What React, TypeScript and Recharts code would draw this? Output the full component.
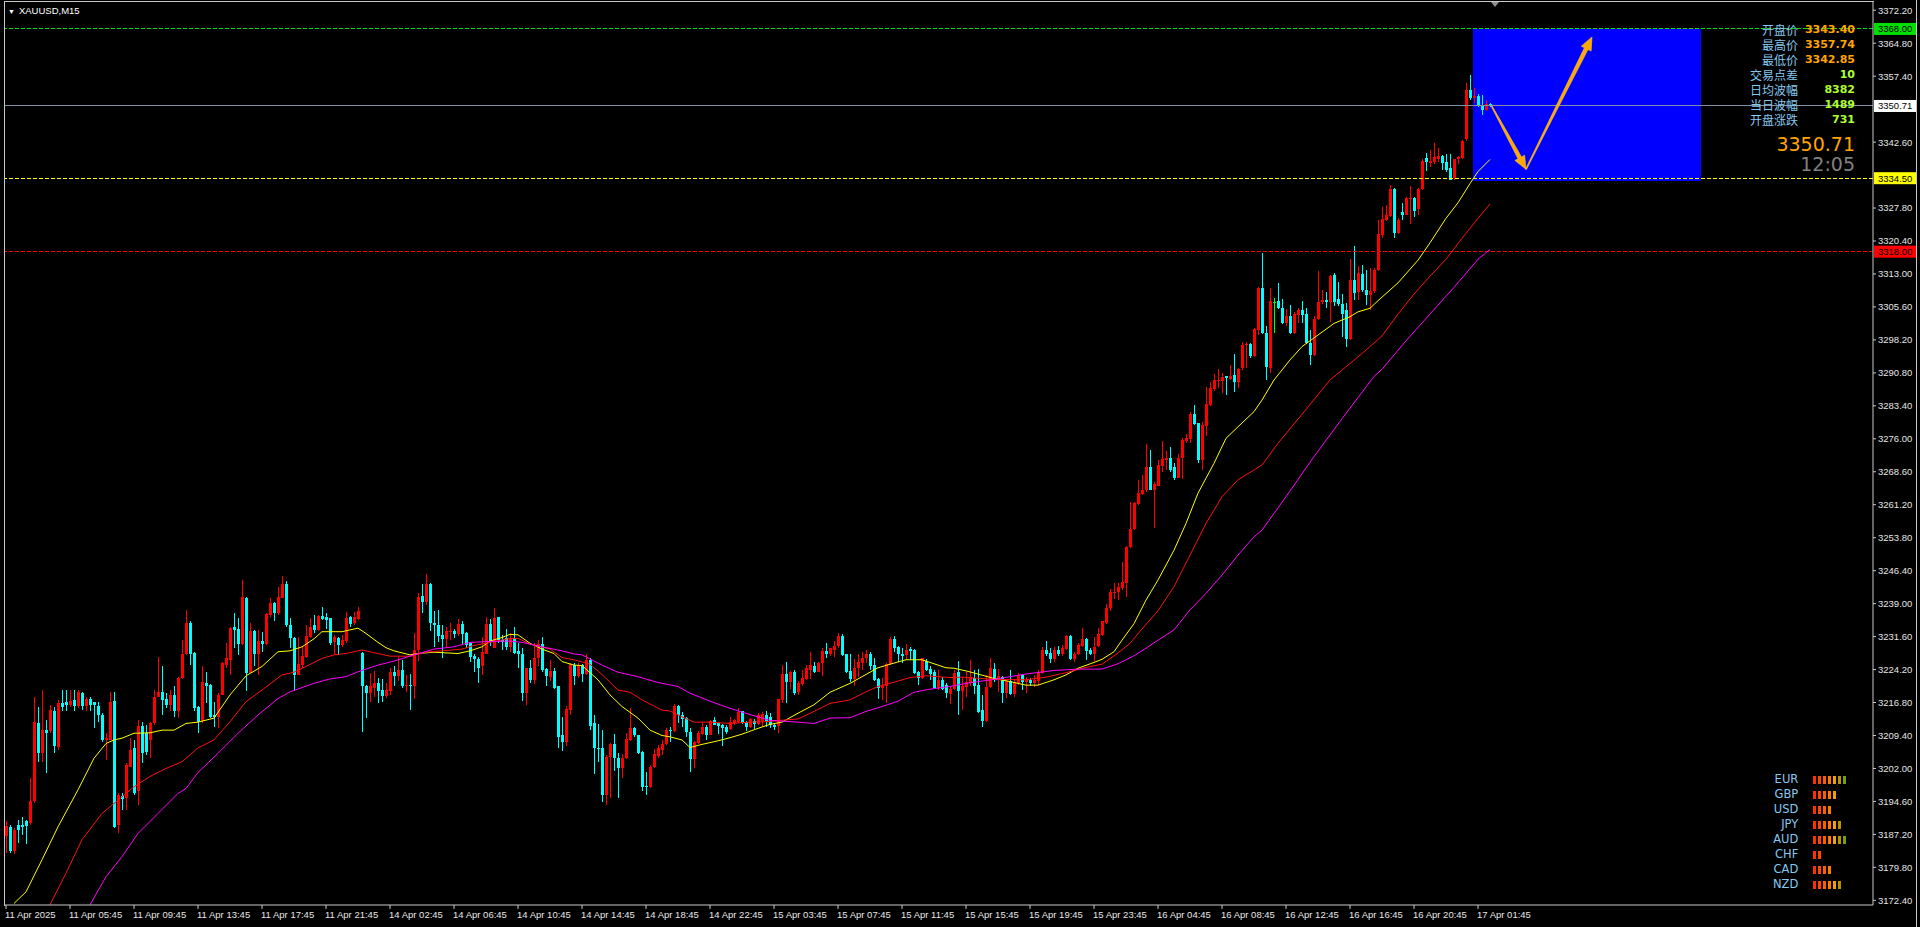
import {
  Bar,
  ComposedChart,
  Line,
  ReferenceArea,
  ReferenceLine,
  XAxis,
  YAxis,
} from 'recharts';

// M15 candles, [open, high, low, close], one array per trading session
const apr11: number[][] = [
  [3186.8,3190.1,3183.0,3189.1],[3188.9,3189.2,3183.0,3183.5],[3183.5,3188.6,3182.8,3188.2],[3189.3,3190.4,3185.2,3188.2],
  [3189.3,3191.2,3187.1,3188.8],[3190.1,3190.4,3185.0,3189.1],[3189.8,3199.8,3189.3,3194.6],[3194.6,3218.1,3194.2,3212.5],
  [3212.3,3215.9,3203.5,3205.4],[3205.4,3219.6,3203.5,3210.6],[3210.6,3212.9,3200.9,3210.0],[3210.3,3216.3,3209.9,3215.1],
  [3214.8,3215.9,3205.4,3207.0],[3206.9,3217.4,3206.1,3216.6],[3216.6,3219.6,3214.8,3215.9],[3217.0,3219.6,3214.8,3216.3],
  [3216.3,3219.6,3215.9,3217.2],[3217.4,3219.6,3214.8,3216.0],[3216.0,3219.6,3215.5,3219.2],[3218.9,3219.2,3215.1,3216.0],
  [3216.0,3218.1,3214.8,3217.7],[3217.7,3218.1,3214.8,3216.3],[3217.0,3217.0,3211.0,3216.3],[3216.0,3217.0,3212.5,3214.0],
  [3214.0,3214.4,3208.0,3208.4],[3208.4,3209.9,3203.9,3208.8],[3208.4,3219.2,3208.4,3217.0],[3217.2,3219.2,3188.6,3188.9],
  [3189.3,3196.4,3187.4,3196.0],[3195.8,3196.4,3192.7,3195.1],[3195.3,3203.2,3192.7,3202.8],[3202.4,3208.8,3202.4,3206.1],
  [3206.5,3208.4,3196.0,3196.4],[3197.0,3212.9,3193.8,3211.5],[3211.5,3212.5,3203.2,3205.4],[3210.0,3211.8,3205.0,3205.8],
  [3208.4,3212.5,3204.3,3212.1],[3212.1,3219.6,3211.8,3218.1],[3218.1,3227.1,3218.0,3219.2],[3219.2,3224.9,3214.0,3217.4],
  [3217.5,3218.9,3215.5,3216.3],[3216.3,3219.6,3214.8,3218.5],[3218.5,3220.4,3213.6,3214.8],[3214.8,3222.6,3213.3,3222.2],
  [3222.2,3230.8,3222.0,3227.8],[3227.7,3237.6,3227.4,3234.6],[3234.6,3235.0,3225.2,3227.8],[3228.0,3228.2,3214.8,3215.6],
  [3215.9,3216.0,3209.9,3212.5],[3212.7,3224.9,3212.1,3221.3],[3221.1,3223.7,3216.6,3220.6],[3220.7,3221.0,3213.3,3213.6],
  [3214.0,3217.0,3211.2,3213.5],[3213.6,3218.9,3211.0,3218.6],[3218.6,3226.0,3218.5,3225.6],[3225.2,3230.1,3224.5,3226.7],
  [3226.3,3233.8,3223.0,3233.6],[3233.8,3236.8,3229.0,3233.1],[3233.3,3235.7,3227.5,3229.9],[3229.9,3244.3,3229.8,3240.6],
  [3240.3,3240.6,3219.4,3223.5],[3223.5,3234.6,3223.4,3232.9],[3232.9,3233.1,3224.9,3227.8],[3227.6,3233.1,3223.0,3230.6],
  [3230.6,3232.7,3228.2,3229.9],[3229.9,3236.8,3229.7,3236.6],[3236.4,3240.2,3236.1,3239.1],[3239.1,3239.4,3235.1,3236.8],
  [3236.8,3242.8,3236.5,3240.6],[3240.3,3245.1,3240.2,3243.3],[3243.3,3244.1,3233.8,3234.2],[3234.3,3235.7,3229.0,3231.2],
  [3231.2,3231.6,3219.4,3223.0],[3223.0,3231.6,3222.9,3225.5],[3225.2,3229.3,3224.5,3227.3],[3227.1,3234.2,3226.7,3231.8],
  [3231.6,3235.7,3231.2,3233.8],[3234.1,3236.5,3232.3,3233.1],[3233.1,3236.5,3232.9,3236.3],[3236.3,3238.3,3235.3,3235.6],
  [3235.9,3236.8,3233.3,3235.3],[3235.7,3235.8,3229.7,3230.1],[3230.3,3232.0,3227.5,3231.4],[3231.2,3231.6,3227.5,3229.7],
  [3229.7,3232.0,3229.3,3230.8],[3230.5,3237.1,3230.1,3235.7],[3236.1,3236.3,3233.8,3234.4],[3234.6,3237.2,3234.2,3235.9],
  [3235.6,3238.3,3235.3,3237.4],
];

const apr14: number[][] = [
  [3228.0,3228.2,3210.1,3220.4],[3220.5,3220.7,3213.4,3218.9],[3218.9,3223.4,3217.0,3220.5],[3220.1,3223.9,3218.1,3221.1],
  [3221.1,3222.4,3216.6,3219.4],[3219.6,3222.1,3217.0,3218.3],[3218.3,3221.1,3217.9,3219.6],[3219.4,3224.5,3218.5,3223.7],
  [3223.7,3224.9,3220.6,3222.8],[3222.8,3227.1,3221.6,3224.1],[3224.1,3226.3,3220.1,3220.6],[3220.6,3223.0,3219.1,3220.8],
  [3220.8,3223.1,3215.1,3220.5],[3220.6,3232.3,3217.6,3228.7],[3228.6,3241.3,3226.1,3240.6],[3240.8,3243.3,3236.8,3239.4],
  [3239.4,3245.7,3238.8,3243.3],[3243.3,3243.6,3232.9,3234.6],[3234.6,3237.4,3229.3,3234.1],[3234.2,3237.6,3230.3,3231.8],
  [3232.0,3234.1,3226.9,3231.1],[3231.1,3233.8,3229.0,3232.9],[3232.6,3234.6,3230.8,3232.9],[3232.9,3233.3,3231.2,3232.1],
  [3232.1,3235.6,3231.8,3234.4],[3234.4,3235.1,3229.7,3232.1],[3232.3,3232.7,3229.0,3229.7],[3230.1,3230.3,3226.0,3227.1],
  [3227.3,3227.8,3223.7,3226.6],[3226.6,3227.1,3221.1,3224.6],[3224.9,3231.6,3223.0,3228.1],[3227.8,3236.1,3227.6,3234.4],
  [3234.4,3235.6,3229.6,3230.5],[3229.1,3238.1,3229.0,3235.7],[3235.9,3236.1,3230.1,3230.8],[3230.8,3232.0,3228.6,3230.3],
  [3231.2,3233.3,3228.6,3229.3],[3229.3,3232.3,3228.2,3231.2],[3231.2,3233.8,3227.8,3228.0],[3228.4,3230.1,3224.5,3227.6],
  [3227.8,3229.0,3217.1,3219.0],[3219.0,3224.6,3216.3,3224.5],[3224.5,3226.3,3221.1,3221.9],[3221.9,3230.1,3220.9,3226.9],
  [3226.7,3230.8,3224.9,3229.9],[3229.9,3231.6,3223.6,3224.1],[3224.3,3224.5,3220.6,3222.8],[3222.6,3226.3,3221.6,3223.9],
  [3223.9,3224.6,3219.8,3220.0],[3220.5,3220.5,3206.5,3209.1],[3209.5,3213.6,3205.9,3207.9],[3207.9,3216.1,3207.1,3215.3],
  [3215.1,3225.7,3214.0,3225.5],[3225.2,3225.6,3220.7,3222.8],[3222.8,3225.6,3222.2,3225.2],[3225.2,3225.4,3221.5,3223.1],
  [3223.1,3227.6,3223.0,3226.4],[3226.4,3226.7,3210.6,3211.6],[3212.1,3214.0,3200.7,3206.7],[3206.7,3211.9,3203.4,3206.4],
  [3206.7,3210.6,3194.5,3196.0],[3196.0,3205.0,3193.8,3204.6],[3204.6,3207.7,3195.3,3207.6],[3207.4,3209.7,3201.4,3204.4],
  [3204.4,3205.4,3195.3,3202.2],[3202.2,3205.2,3199.9,3204.3],[3204.3,3209.9,3204.1,3208.6],[3208.4,3215.5,3208.2,3211.0],
  [3211.0,3211.4,3209.1,3209.4],[3209.4,3209.5,3205.2,3205.4],[3205.8,3205.9,3196.9,3197.9],[3198.1,3201.3,3196.0,3197.9],
  [3197.9,3202.8,3197.7,3202.4],[3202.4,3206.4,3202.2,3205.2],[3204.9,3207.3,3204.4,3206.5],[3206.1,3208.4,3205.0,3207.6],
  [3207.4,3211.0,3207.3,3210.6],[3210.6,3211.2,3208.0,3210.3],[3210.3,3216.4,3210.1,3216.1],[3216.1,3216.2,3212.1,3213.9],
  [3214.0,3214.6,3211.2,3213.1],[3213.3,3213.6,3209.1,3210.1],[3210.1,3211.0,3201.1,3204.1],[3204.1,3208.2,3202.2,3207.9],
  [3207.7,3210.3,3207.4,3209.9],[3209.7,3212.5,3209.4,3211.4],[3211.4,3211.8,3208.4,3209.4],[3209.5,3212.9,3209.4,3212.7],
  [3212.9,3213.6,3211.7,3211.8],[3212.1,3212.3,3209.7,3211.6],[3211.8,3211.9,3207.1,3211.0],[3211.4,3211.8,3209.7,3210.1],
];

const apr15: number[][] = [
  [3210.9,3213.6,3210.6,3212.4],[3212.2,3213.2,3211.8,3212.9],[3212.5,3215.5,3212.1,3214.6],[3214.8,3214.9,3211.9,3212.1],
  [3212.4,3212.7,3210.3,3211.4],[3211.4,3213.4,3211.0,3213.1],[3212.7,3213.2,3210.9,3211.9],[3211.9,3214.4,3211.8,3214.0],
  [3212.7,3214.6,3211.4,3214.2],[3214.0,3214.8,3211.4,3212.7],[3213.6,3214.4,3211.0,3211.8],[3211.8,3212.3,3210.6,3211.4],
  [3211.6,3217.7,3209.9,3217.6],[3217.4,3225.2,3216.8,3223.1],[3223.1,3225.8,3216.8,3221.3],[3221.3,3223.9,3219.8,3223.6],
  [3223.7,3224.1,3218.5,3218.9],[3219.1,3221.6,3218.5,3221.1],[3220.9,3224.1,3220.6,3222.2],[3222.1,3225.2,3221.9,3224.5],
  [3224.1,3228.1,3222.1,3225.2],[3225.1,3225.8,3223.4,3223.7],[3223.7,3225.8,3223.6,3225.6],[3225.6,3229.0,3222.8,3228.4],
  [3228.4,3230.1,3226.9,3227.6],[3227.6,3229.1,3227.3,3229.0],[3228.6,3230.5,3227.1,3229.6],[3229.4,3232.3,3229.1,3231.8],
  [3231.8,3232.1,3227.3,3227.5],[3227.6,3227.8,3223.4,3223.7],[3223.9,3227.8,3221.5,3222.1],[3222.1,3226.6,3220.6,3224.6],
  [3224.5,3227.6,3222.6,3226.0],[3225.6,3228.1,3224.1,3226.9],[3226.7,3228.6,3225.6,3227.6],[3227.6,3228.1,3224.1,3224.9],
  [3225.2,3226.7,3221.6,3221.9],[3222.1,3222.4,3217.6,3220.1],[3220.1,3222.2,3217.4,3220.6],[3220.4,3225.6,3216.8,3225.4],
  [3225.4,3231.4,3225.2,3231.1],[3231.1,3231.8,3228.2,3229.0],[3229.3,3229.6,3225.8,3227.6],[3227.8,3229.0,3225.6,3227.3],
  [3227.5,3229.9,3226.6,3228.6],[3228.8,3229.3,3226.4,3228.4],[3228.6,3228.8,3223.1,3223.4],[3223.6,3223.9,3220.7,3222.2],
  [3222.2,3226.9,3222.1,3226.7],[3226.1,3226.6,3223.9,3224.1],[3224.3,3224.9,3221.9,3223.1],[3223.6,3224.1,3219.8,3220.0],
  [3220.0,3224.1,3219.6,3221.9],[3221.9,3222.6,3219.6,3219.8],[3220.7,3221.1,3217.9,3218.9],[3218.7,3220.4,3216.4,3219.8],
  [3219.8,3224.1,3219.6,3223.4],[3223.6,3226.1,3214.0,3219.4],[3219.4,3222.6,3215.1,3220.4],[3220.2,3223.7,3218.1,3221.3],
  [3221.1,3226.4,3220.5,3222.5],[3222.2,3224.0,3218.7,3220.5],[3220.7,3224.3,3214.5,3214.7],[3215.1,3218.5,3211.4,3212.7],
  [3212.7,3223.0,3212.5,3220.2],[3220.2,3226.7,3220.0,3224.5],[3224.3,3225.6,3221.5,3221.9],[3221.9,3224.3,3219.2,3222.8],
  [3222.5,3222.8,3216.8,3219.0],[3219.0,3222.0,3217.8,3221.7],[3221.7,3224.1,3218.5,3218.7],[3218.7,3221.9,3218.1,3221.3],
  [3221.1,3223.4,3220.7,3223.0],[3223.0,3223.2,3219.6,3221.3],[3221.3,3222.5,3219.0,3221.9],[3221.9,3222.2,3220.5,3221.1],
  [3221.1,3223.0,3220.2,3221.9],[3221.6,3224.0,3220.7,3223.7],[3223.5,3229.3,3223.2,3228.7],[3228.6,3230.6,3227.3,3227.7],
  [3228.0,3229.0,3225.6,3226.6],[3226.5,3229.3,3226.0,3228.5],[3228.5,3229.5,3227.3,3227.7],[3227.7,3229.7,3227.3,3229.0],
  [3228.8,3232.0,3228.6,3231.7],[3231.7,3232.0,3226.4,3226.6],[3226.5,3228.2,3226.0,3227.8],[3227.8,3230.1,3227.5,3229.7],
  [3229.5,3233.5,3229.3,3231.0],[3231.0,3231.2,3226.3,3228.4],[3228.6,3229.0,3227.5,3227.8],[3227.8,3231.4,3226.2,3229.2],
];

const apr16: number[][] = [
  [3229.4,3233.5,3229.2,3232.2],[3232.0,3235.2,3231.7,3235.0],[3234.6,3238.9,3234.4,3238.0],[3238.0,3242.2,3237.4,3241.5],
  [3241.5,3243.7,3240.0,3241.7],[3241.7,3243.6,3239.9,3242.7],[3242.5,3248.4,3242.1,3243.9],[3243.7,3251.9,3240.4,3251.8],
  [3251.6,3261.9,3251.4,3255.7],[3255.7,3261.9,3255.5,3261.5],[3261.4,3266.8,3261.1,3263.8],[3263.6,3267.9,3263.4,3264.5],
  [3264.4,3274.8,3264.1,3269.6],[3269.6,3273.5,3264.4,3264.5],[3264.6,3266.2,3255.9,3265.9],[3265.4,3271.2,3265.3,3270.1],
  [3269.9,3275.4,3268.6,3271.4],[3271.3,3273.3,3269.0,3271.8],[3271.6,3274.1,3268.6,3269.1],[3269.6,3270.5,3266.8,3267.3],
  [3267.3,3272.6,3267.1,3271.8],[3271.6,3276.1,3266.9,3275.7],[3275.4,3277.1,3275.0,3276.1],[3275.9,3282.1,3275.0,3281.6],
  [3281.6,3283.6,3279.1,3279.3],[3279.5,3279.6,3270.6,3271.2],[3271.2,3279.8,3269.0,3279.1],[3278.9,3287.7,3276.6,3283.8],
  [3283.6,3288.8,3283.4,3287.3],[3287.1,3290.5,3286.8,3289.2],[3288.9,3291.6,3287.3,3289.1],[3288.9,3290.7,3286.2,3289.9],
  [3290.0,3290.1,3285.8,3289.6],[3289.4,3292.6,3289.3,3290.1],[3290.3,3295.0,3286.6,3288.8],[3288.8,3291.8,3287.3,3291.6],
  [3292.0,3297.8,3291.5,3297.1],[3297.0,3297.8,3292.0,3297.3],[3297.3,3297.6,3294.1,3294.6],[3294.6,3300.8,3294.4,3300.6],
  [3300.4,3310.0,3299.3,3309.9],[3309.9,3317.8,3299.5,3299.7],[3299.7,3301.3,3289.2,3292.2],[3292.0,3309.8,3290.8,3307.0],
  [3306.8,3307.5,3299.8,3306.8],[3307.0,3310.9,3305.1,3305.3],[3305.3,3307.3,3301.7,3301.9],[3301.9,3305.1,3301.3,3303.6],
  [3303.6,3306.0,3299.5,3299.7],[3299.7,3304.5,3299.5,3304.0],[3303.8,3305.3,3301.9,3304.9],[3304.8,3307.0,3301.9,3303.8],
  [3304.0,3305.3,3297.3,3297.6],[3297.6,3300.4,3292.6,3294.8],[3294.8,3303.6,3294.6,3303.0],[3302.8,3313.7,3302.7,3306.6],
  [3306.6,3309.5,3306.3,3307.2],[3307.2,3309.0,3305.3,3306.8],[3306.8,3312.8,3302.3,3312.5],[3312.8,3313.3,3305.7,3306.8],
  [3307.3,3311.3,3305.7,3306.3],[3306.3,3308.6,3298.9,3304.0],[3304.9,3306.4,3296.7,3298.3],[3298.3,3316.3,3298.2,3311.6],
  [3311.6,3319.3,3307.2,3308.8],[3309.0,3314.8,3307.2,3313.2],[3313.0,3315.0,3309.0,3309.5],[3309.5,3314.0,3306.0,3308.3],
  [3308.3,3314.3,3304.9,3309.2],[3309.2,3314.3,3308.7,3314.0],[3313.9,3325.1,3313.7,3322.0],[3321.7,3328.1,3321.0,3325.3],
  [3325.1,3328.5,3325.0,3326.2],[3326.0,3333.0,3325.9,3332.0],[3332.0,3332.2,3321.0,3322.3],[3322.3,3325.5,3322.0,3325.1],
  [3326.9,3328.9,3325.1,3326.3],[3326.3,3330.2,3326.2,3330.0],[3329.8,3332.7,3324.2,3330.0],[3330.0,3330.3,3325.9,3327.2],
  [3327.6,3332.2,3326.2,3332.0],[3332.0,3338.7,3331.8,3338.4],[3339.0,3340.2,3336.2,3338.2],[3338.0,3340.8,3337.1,3338.4],
  [3338.2,3342.5,3337.7,3339.2],[3338.7,3341.2,3338.2,3339.5],[3339.5,3339.7,3336.3,3338.0],[3338.2,3339.9,3336.0,3336.3],
  [3336.7,3339.9,3334.1,3334.2],[3334.5,3338.9,3334.2,3338.7],[3338.7,3339.5,3337.7,3339.2],[3339.0,3343.1,3338.7,3342.9],
];

const apr17: number[][] = [
  [3343.4,3355.9,3342.85,3354.3],[3354.3,3357.74,3352.1,3352.6],[3352.6,3354.7,3351.3,3352.9],[3352.9,3353.4,3350.4,3350.7],
  [3350.9,3353.2,3348.7,3349.8],[3349.8,3352.0,3349.6,3351.2],[3351.2,3351.3,3350.4,3350.71],
];

// moving averages as [bar index, value], read at intervals along each line
const maFast: number[][] = [
  [2,3171.7],[5,3174.3],[9,3181.5],[13,3188.9],[18,3197.2],[22,3204.3],[25,3207.6],[27,3208.4],[29,3208.8],[32,3209.9],
  [36,3210.0],[39,3210.6],[42,3210.6],[45,3212.1],[48,3212.4],[52,3213.3],[56,3218.5],[60,3222.8],[64,3224.9],[68,3228.2],
  [71,3228.4],[74,3229.3],[77,3231.1],[79,3232.7],[84,3232.7],[88,3233.5],[90,3232.3],[93,3230.3],[95,3229.1],[97,3228.4],
  [101,3227.5],[103,3227.8],[107,3228.1],[113,3227.8],[116,3228.4],[119,3229.3],[121,3230.6],[124,3231.4],[126,3232.1],
  [128,3232.0],[131,3230.1],[134,3228.8],[137,3227.8],[139,3226.0],[142,3225.2],[144,3225.1],[148,3221.9],[151,3218.5],
  [154,3215.9],[158,3213.3],[161,3210.6],[164,3209.4],[166,3209.1],[169,3208.4],[171,3206.7],[174,3207.4],[178,3208.2],
  [181,3208.9],[184,3209.7],[188,3211.0],[191,3211.9],[194,3212.4],[198,3214.4],[202,3216.3],[206,3219.1],[211,3221.1],
  [215,3223.1],[218,3224.6],[221,3225.4],[225,3226.4],[229,3226.4],[231,3225.8],[235,3224.6],[237,3224.5],[240,3223.9],
  [243,3223.2],[247,3222.2],[251,3221.5],[255,3220.7],[258,3220.7],[262,3221.9],[265,3223.0],[268,3224.5],[272,3225.8],
  [274,3226.5],[277,3228.2],[279,3230.8],[282,3234.5],[285,3239.8],[288,3244.3],[292,3251.0],[295,3257.0],[298,3263.8],
  [302,3270.5],[305,3276.1],[308,3278.7],[312,3282.1],[314,3284.7],[317,3289.2],[321,3293.7],[324,3296.7],[328,3299.3],
  [332,3301.9],[336,3303.4],[338,3304.5],[341,3305.3],[343,3307.0],[348,3311.0],[353,3316.1],[356,3320.0],[360,3325.5],
  [363,3329.0],[366,3333.3],[368,3336.0],[371,3338.7],
];

const maMid: number[][] = [
  [11,3171.4],[15,3178.5],[19,3186.0],[24,3191.9],[28,3194.9],[32,3197.9],[36,3200.2],[40,3202.0],[44,3203.5],[48,3206.6],
  [52,3208.4],[56,3212.5],[60,3217.0],[64,3219.6],[69,3223.0],[72,3223.6],[75,3224.9],[79,3226.7],[82,3227.5],[85,3227.8],
  [89,3228.6],[93,3227.8],[96,3227.2],[101,3227.2],[105,3228.1],[109,3228.4],[114,3228.8],[117,3229.6],[121,3230.3],
  [126,3231.2],[128,3231.2],[131,3229.9],[136,3228.8],[139,3226.9],[142,3226.4],[146,3225.4],[149,3223.1],[153,3219.6],
  [156,3219.1],[159,3217.4],[164,3215.1],[166,3214.9],[169,3213.6],[172,3212.4],[176,3212.4],[181,3212.1],[186,3212.4],
  [190,3212.5],[195,3212.9],[198,3213.1],[202,3214.8],[206,3216.6],[211,3217.4],[215,3219.2],[218,3220.4],[221,3221.1],
  [226,3222.4],[230,3222.8],[233,3222.6],[236,3222.4],[239,3222.5],[247,3222.0],[255,3221.9],[260,3222.5],[265,3223.5],
  [270,3224.7],[274,3225.4],[278,3227.9],[281,3230.1],[284,3233.3],[288,3237.4],[292,3242.8],[296,3249.9],[300,3257.0],
  [304,3263.0],[308,3266.8],[312,3269.0],[314,3270.1],[318,3275.0],[324,3281.5],[331,3289.2],[336,3292.9],[340,3295.9],
  [344,3299.1],[348,3304.0],[352,3308.5],[356,3312.5],[360,3316.3],[364,3321.0],[368,3325.5],[371,3328.7],
];

const maSlow: number[][] = [
  [21,3171.4],[25,3177.7],[29,3182.2],[33,3187.4],[38,3191.9],[43,3196.4],[45,3197.5],[48,3201.1],[53,3205.4],[58,3209.9],
  [63,3214.0],[68,3217.7],[71,3219.2],[77,3221.1],[81,3222.1],[85,3222.6],[88,3223.7],[93,3225.2],[97,3226.1],[102,3227.5],
  [107,3228.8],[112,3229.3],[116,3230.3],[121,3230.5],[126,3230.6],[129,3230.3],[134,3229.3],[139,3228.4],[142,3227.7],
  [144,3227.5],[149,3225.2],[153,3223.6],[158,3222.6],[163,3221.3],[168,3220.4],[171,3218.9],[176,3217.1],[181,3215.5],
  [186,3214.1],[191,3212.8],[198,3212.4],[202,3212.1],[206,3213.3],[211,3213.4],[215,3214.8],[219,3215.9],[223,3217.1],
  [227,3219.1],[231,3219.8],[236,3220.4],[240,3221.1],[247,3222.0],[255,3223.2],[262,3224.0],[268,3224.3],[274,3224.3],
  [278,3225.5],[282,3227.3],[285,3229.0],[288,3230.8],[292,3233.1],[296,3237.6],[300,3241.3],[304,3245.4],[308,3249.9],
  [312,3254.0],[314,3255.5],[320,3263.0],[327,3272.0],[334,3280.5],[342,3290.0],[344,3291.6],[350,3298.0],[356,3304.0],
  [362,3310.0],[368,3316.3],[371,3318.5],
];

const timeLabels = [
  '11 Apr 2025', '11 Apr 05:45', '11 Apr 09:45', '11 Apr 13:45', '11 Apr 17:45', '11 Apr 21:45',
  '14 Apr 02:45', '14 Apr 06:45', '14 Apr 10:45', '14 Apr 14:45', '14 Apr 18:45', '14 Apr 22:45',
  '15 Apr 03:45', '15 Apr 07:45', '15 Apr 11:45', '15 Apr 15:45', '15 Apr 19:45', '15 Apr 23:45',
  '16 Apr 04:45', '16 Apr 08:45', '16 Apr 12:45', '16 Apr 16:45', '16 Apr 20:45', '17 Apr 01:45',
];
const priceTicks = [
  3372.2, 3364.8, 3357.4, 3342.6, 3327.8, 3320.4, 3313.0, 3305.6, 3298.2, 3290.8, 3283.4, 3276.0, 3268.6, 3261.2,
  3253.8, 3246.4, 3239.0, 3231.6, 3224.2, 3216.8, 3209.4, 3202.0, 3194.6, 3187.2, 3179.8, 3172.4,
];

const levelGreen = 3368.0;
const levelPrice = 3350.71;
const levelYellow = 3334.5;
const levelRed = 3318.0;
const zoneBars = [366.75, 423.75];
const zonePrices = [3333.87, 3368.0];
const arrowPath = [[371.4, 3350.7], [380, 3336.5], [396.5, 3366.2]];

const infoLabels = ['开盘价', '最高价', '最低价', '交易点差', '日均波幅', '当日波幅', '开盘涨跌'];
const infoValues = ['3343.40', '3357.74', '3342.85', '10', '8382', '1489', '731'];
const currencies = ['EUR', 'GBP', 'USD', 'JPY', 'AUD', 'CHF', 'CAD', 'NZD'];
const strength = [7, 5, 4, 6, 7, 2, 4, 6];
const strengthColors = ['#ff3000', '#ff4400', '#ff5c00', '#ff7800', '#f0a000', '#b89400', '#78a000'];

const FONT = '"Liberation Sans", Arial, sans-serif';
const DEJAVU = '"DejaVu Sans", sans-serif';
const CJK = '"Noto Sans CJK SC", sans-serif';

type Row = { i: number; o: number; h: number; l: number; c: number; range: [number, number]; f?: number; m?: number; s?: number };

const rows: Row[] = [...apr11, ...apr14, ...apr15, ...apr16, ...apr17].map(([o, h, l, c], i) => ({
  i, o, h, l, c, range: [l, h],
}));
maFast.forEach(([k, v]) => (rows[k].f = v));
maMid.forEach(([k, v]) => (rows[k].m = v));
maSlow.forEach(([k, v]) => (rows[k].s = v));

const tickBars = timeLabels.map((_, n) => n * 16);

function Candle(props: any) {
  const { x, y, width, height, payload } = props;
  if (!payload || x == null) return null;
  const { o, h, l, c } = payload as Row;
  const top = Math.min(y, y + height);
  const bot = Math.max(y, y + height);
  const span = h - l;
  const py = (v: number) => (span > 0 ? top + ((h - v) / span) * (bot - top) : top);
  const col = Math.round(x + width / 2);
  const color = c > o ? '#ff0000' : c < o ? '#00ffff' : '#00ff00';
  const b1 = py(Math.max(o, c));
  const b2 = py(Math.min(o, c));
  return (
    <g shapeRendering="crispEdges">
      <line x1={col + 0.5} x2={col + 0.5} y1={top} y2={bot} stroke={color} strokeWidth={1} />
      <rect x={col - 1} y={b1} width={3} height={Math.max(1, b2 - b1)} fill={color} />
    </g>
  );
}

function XTick({ x, y, payload }: any) {
  return (
    <text x={x - 1} y={y + 7} fill="#e6e6e6" fontSize={9.5} fontFamily={FONT} textAnchor="start">
      {timeLabels[Math.round(payload.value / 16)]}
    </text>
  );
}

function YTick({ x, y, payload }: any) {
  return (
    <text x={x} y={y + 3.4} fill="#e6e6e6" fontSize={9.5} fontFamily={FONT} textAnchor="start">
      {Number(payload.value).toFixed(2)}
    </text>
  );
}

function tag(value: number, bg: string) {
  return (props: any) => {
    const vb = props.viewBox;
    if (!vb) return null;
    const right = vb.x + vb.width;
    return (
      <g>
        <rect x={right + 1} y={vb.y - 6} width={42} height={12} fill={bg} />
        <text x={right + 5} y={vb.y + 3.4} fontSize={9.5} fontFamily={FONT} fill="#000">
          {value.toFixed(2)}
        </text>
      </g>
    );
  };
}

function ArrowShape(props: any) {
  const { x1, y1, x2, y2 } = props;
  if ([x1, y1, x2, y2].some((v) => v == null || Number.isNaN(v))) return null;
  const dx = x2 - x1;
  const dy = y2 - y1;
  const len = Math.hypot(dx, dy) || 1;
  const ux = dx / len;
  const uy = dy / len;
  const nx = -uy;
  const ny = ux;
  const head = 13;
  const bx = x2 - ux * head;
  const by = y2 - uy * head;
  const pts = [
    [x1 + nx * 0.5, y1 + ny * 0.5],
    [bx + nx * 2, by + ny * 2],
    [bx + nx * 5.5, by + ny * 5.5],
    [x2, y2],
    [bx - nx * 5.5, by - ny * 5.5],
    [bx - nx * 2, by - ny * 2],
    [x1 - nx * 0.5, y1 - ny * 0.5],
  ];
  return <polygon points={pts.map((p) => p.join(',')).join(' ')} fill="#ffa800" stroke="#ffc430" strokeWidth={0.6} />;
}

export default function App() {
  return (
    <div style={{ position: 'relative', width: 1920, height: 927, background: '#000', overflow: 'hidden' }}>
      <style>{'body{margin:0;background:#000}'}</style>
      <ComposedChart width={1920} height={927} data={rows} margin={{ top: 2, right: 0, bottom: 0, left: 5 }}>
        <XAxis
          dataKey="i"
          type="number"
          domain={[-0.25, 466.75]}
          allowDataOverflow
          ticks={tickBars}
          interval={0}
          height={22}
          stroke="#c8c8c8"
          tickSize={4}
          tick={<XTick />}
        />
        <YAxis
          orientation="right"
          type="number"
          domain={[3171.35, 3374.05]}
          allowDataOverflow
          ticks={priceTicks}
          interval={0}
          width={47}
          stroke="#c8c8c8"
          tickSize={3}
          tick={<YTick />}
        />
        <ReferenceArea
          x1={zoneBars[0]}
          x2={zoneBars[1]}
          y1={zonePrices[0]}
          y2={zonePrices[1]}
          fill="#0000ff"
          fillOpacity={1}
          stroke="none"
          ifOverflow="visible"
        />
        <ReferenceLine y={levelGreen} stroke="#00e000" strokeDasharray="4 2" shapeRendering="crispEdges" label={tag(levelGreen, '#00e000')} />
        <ReferenceLine y={levelYellow} stroke="#ffff00" strokeDasharray="4 2" shapeRendering="crispEdges" label={tag(levelYellow, '#ffff00')} />
        <ReferenceLine y={levelRed} stroke="#ff0000" strokeDasharray="4 2" shapeRendering="crispEdges" label={tag(levelRed, '#ff0000')} />
        <Line dataKey="f" stroke="#ffff00" strokeWidth={1} dot={false} connectNulls isAnimationActive={false} />
        <Line dataKey="m" stroke="#ff1010" strokeWidth={1} dot={false} connectNulls isAnimationActive={false} />
        <Line dataKey="s" stroke="#ff00ff" strokeWidth={1} dot={false} connectNulls isAnimationActive={false} />
        <Bar dataKey="range" shape={(p: any) => <Candle {...p} />} isAnimationActive={false} />
        <ReferenceLine y={levelPrice} stroke="#8090a4" shapeRendering="crispEdges" label={tag(levelPrice, '#ffffff')} />
        {arrowPath.slice(1).map((pt, n) => (
          <ReferenceLine
            key={n}
            segment={[
              { x: arrowPath[n][0], y: arrowPath[n][1] },
              { x: pt[0], y: pt[1] },
            ]}
            shape={ArrowShape}
            ifOverflow="visible"
          />
        ))}
      </ComposedChart>

      {/* chart frame */}
      <div style={{ position: 'absolute', left: 4, top: 1, width: 1869, height: 904, borderLeft: '1px solid #c8c8c8', borderTop: '1px solid #c8c8c8', pointerEvents: 'none' }} />
      <div style={{ position: 'absolute', left: 1916, top: 0, width: 1, height: 927, background: '#c8c8c8' }} />
      <div style={{ position: 'absolute', left: 1491, top: 2, width: 0, height: 0, borderLeft: '4px solid transparent', borderRight: '4px solid transparent', borderTop: '5px solid #909090' }} />

      <div style={{ position: 'absolute', left: 8, top: 5, color: '#ffffff', fontFamily: FONT, fontSize: 9.5, lineHeight: '12px', whiteSpace: 'nowrap' }}>
        <span style={{ fontSize: 7, marginRight: 4 }}>▼</span>XAUUSD,M15
      </div>

      {/* info panel */}
      <div style={{ position: 'absolute', right: 1920 - 1855, top: 21.5, display: 'grid', gridTemplateColumns: 'auto 57px', textAlign: 'right' }}>
        {infoLabels.map((lab, n) => (
          <div key={lab} style={{ display: 'contents' }}>
            <div style={{ fontFamily: CJK, fontSize: 12, lineHeight: '15px', color: '#87c8ee' }}>{lab}</div>
            <div style={{ fontFamily: DEJAVU, fontWeight: 'bold', fontSize: 11, lineHeight: '15px', color: n < 3 ? '#ffa500' : '#adff2f' }}>
              {infoValues[n]}
            </div>
          </div>
        ))}
      </div>
      <div style={{ position: 'absolute', right: 1920 - 1855, top: 133, fontFamily: DEJAVU, fontSize: 19, lineHeight: '22px', color: '#ffa500' }}>
        {levelPrice.toFixed(2)}
      </div>
      <div style={{ position: 'absolute', right: 1920 - 1855, top: 153, fontFamily: DEJAVU, fontSize: 19, lineHeight: '22px', color: '#808080' }}>
        12:05
      </div>

      {/* currency strength */}
      {currencies.map((cur, n) => (
        <div key={cur} style={{ position: 'absolute', left: 1700, top: 772.2 + n * 15, width: 160, height: 15, display: 'flex', alignItems: 'center' }}>
          <div style={{ width: 98.3, textAlign: 'right', fontFamily: DEJAVU, fontSize: 11.5, lineHeight: '15px', color: '#87c8ee' }}>{cur}</div>
          <div style={{ marginLeft: 14.4, display: 'flex', gap: 2 }}>
            {Array.from({ length: strength[n] }, (_, s) => (
              <div key={s} style={{ width: 3, height: 8, background: strengthColors[s] }} />
            ))}
          </div>
        </div>
      ))}
    </div>
  );
}
